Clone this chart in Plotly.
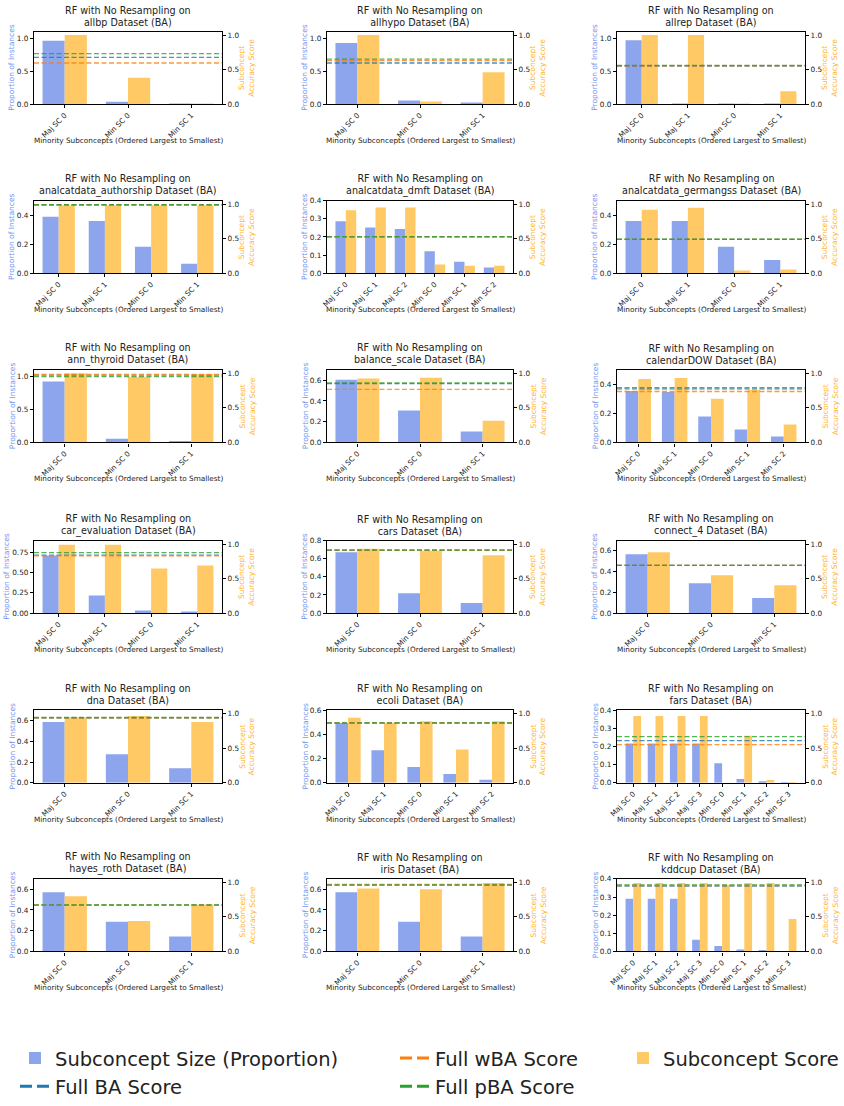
import plotly.graph_objects as go

W, H = 844, 1106
FONT = "DejaVu Sans"
TXT = "#222222"

datasets = ["allbp", "allhypo", "allrep", "analcatdata_authorship", "analcatdata_dmft",
            "analcatdata_germangss", "ann_thyroid", "balance_scale", "calendarDOW",
            "car_evaluation", "cars", "connect_4", "dna", "ecoli", "fars",
            "hayes_roth", "iris", "kddcup"]

cat3 = ["Maj SC 0", "Min SC 0", "Min SC 1"]
cat4 = ["Maj SC 0", "Maj SC 1", "Min SC 0", "Min SC 1"]
cat5 = ["Maj SC 0", "Maj SC 1", "Min SC 0", "Min SC 1", "Min SC 2"]
cat6 = ["Maj SC 0", "Maj SC 1", "Maj SC 2", "Min SC 0", "Min SC 1", "Min SC 2"]
cat8 = ["Maj SC 0", "Maj SC 1", "Maj SC 2", "Maj SC 3", "Min SC 0", "Min SC 1", "Min SC 2", "Min SC 3"]

categories = [cat3, cat3, cat4, cat4, cat6, cat4, cat3, cat3, cat5,
              cat4, cat3, cat3, cat3, cat5, cat8, cat3, cat3, cat8]

proportions = [
    [0.96, 0.035, 0.002],
    [0.925, 0.055, 0.02],
    [0.968, 0.004, 0.003, 0.002],
    [0.389, 0.361, 0.183, 0.066],
    [0.287, 0.253, 0.244, 0.122, 0.064, 0.031],
    [0.361, 0.361, 0.183, 0.091],
    [0.925, 0.055, 0.02],
    [0.604, 0.308, 0.106],
    [0.354, 0.347, 0.178, 0.089, 0.041],
    [0.715, 0.219, 0.033, 0.02],
    [0.67, 0.22, 0.11],
    [0.568, 0.287, 0.145],
    [0.587, 0.274, 0.14],
    [0.495, 0.268, 0.13, 0.073, 0.024],
    [0.216, 0.216, 0.216, 0.216, 0.108, 0.02, 0.005, 0.002],
    [0.571, 0.286, 0.143],
    [0.571, 0.286, 0.143],
    [0.29, 0.29, 0.29, 0.065, 0.03, 0.01, 0.005, 0.002],
]

scores = [
    [1.0, 0.38, 0.005],
    [1.0, 0.037, 0.46],
    [1.0, 1.0, 0.005, 0.185],
    [0.985, 0.985, 0.985, 0.985],
    [0.913, 0.952, 0.952, 0.125, 0.11, 0.11],
    [0.918, 0.947, 0.038, 0.053],
    [1.0, 0.952, 0.986],
    [0.924, 0.938, 0.314],
    [0.919, 0.933, 0.632, 0.761, 0.258],
    [0.99, 0.99, 0.644, 0.688],
    [0.933, 0.904, 0.837],
    [0.88, 0.548, 0.404],
    [0.95, 0.965, 0.88],
    [0.94, 0.87, 0.89, 0.48, 0.89],
    [0.965, 0.965, 0.965, 0.965, 0.0, 0.68, 0.04, 0.005],
    [0.8, 0.44, 0.68],
    [0.91, 0.9, 0.99],
    [0.99, 0.99, 0.99, 0.99, 0.965, 0.99, 0.99, 0.47],
]

ba_scores = [0.676, 0.595, 0.55, 0.99, 0.527, 0.49, 0.975, 0.85, 0.775,
             0.84, 0.91, 0.69, 0.94, 0.865, 0.61, 0.67, 0.96, 0.945]
wba_scores = [0.595, 0.63, 0.555, 0.99, 0.527, 0.49, 0.986, 0.767, 0.737,
              0.827, 0.91, 0.69, 0.94, 0.865, 0.553, 0.67, 0.97, 0.955]
pba_scores = [0.73, 0.652, 0.56, 0.992, 0.53, 0.492, 0.952, 0.862, 0.794,
              0.875, 0.913, 0.692, 0.945, 0.868, 0.667, 0.675, 0.965, 0.965]

left_tops = [1.1, 1.1, 1.1, 0.5, 0.4, 0.5, 1.1, 0.7, 0.5,
             0.9, 0.8, 0.7, 0.7, 0.6, 0.4, 0.7, 0.7, 0.4]
left_dticks = [0.5, 0.5, 0.5, 0.2, 0.1, 0.2, 0.5, 0.2, 0.2,
               0.25, 0.2, 0.2, 0.2, 0.2, 0.1, 0.2, 0.2, 0.1]

BLUE_BAR = "#8DA5ED"
ORANGE_BAR = "#FFC966"
BA_C = "#1f77b4"
WBA_C = "#ff7f0e"
PBA_C = "#2ca02c"
LBL_BLUE = "#7393EF"
LBL_ORANGE = "#FFB22E"

col_x = [(34, 222), (327, 513), (617, 805)]
row_top = [32, 203.5, 375, 548, 720, 891]
PH = 73.5

fig = go.Figure()
shapes, annotations, axes = [], [], {}

common_axis = dict(showline=True, linecolor="black", linewidth=1.2, showgrid=False,
                   zeroline=False, ticks="outside", ticklen=3, tickwidth=0.8,
                   tickcolor="black", tickfont=dict(size=7.3, color=TXT, family=FONT),
                   fixedrange=True, automargin=False)

for k, name in enumerate(datasets):
    r, c = divmod(k, 3)
    x0, x1 = col_x[c]
    yt = row_top[r]
    yb = yt + PH
    xid = "" if k == 0 else str(k + 1)
    ylid = "" if k == 0 else str(2 * k + 1)
    yrid = str(2 * k + 2)
    xref, ylref, yrref = "x" + xid, "y" + ylid, "y" + yrid
    cats = categories[k]
    n = len(cats)
    span = n - 1 + 0.7
    lo, hi = -0.35 - 0.05 * span, n - 1 + 0.35 + 0.05 * span
    two_dec = left_dticks[k] == 0.25

    fig.add_trace(go.Bar(x=cats, y=proportions[k], xaxis=xref, yaxis=ylref,
                         marker=dict(color=BLUE_BAR, line=dict(width=0)),
                         width=0.35, offset=-0.35, name="Subconcept Size (Proportion)",
                         showlegend=(k == 0), legend="legend", legendgroup="size"))
    fig.add_trace(go.Bar(x=cats, y=scores[k], xaxis=xref, yaxis=yrref,
                         marker=dict(color=ORANGE_BAR, line=dict(width=0)),
                         width=0.35, offset=0.0, name="Subconcept Score",
                         showlegend=(k == 0), legend="legend3", legendgroup="score"))

    axes["xaxis" + xid] = dict(common_axis, domain=[x0 / W, x1 / W], anchor=ylref,
                               type="category", categoryorder="array", categoryarray=cats,
                               range=[lo, hi], tickangle=-45, mirror=True)
    axes["yaxis" + ylid] = dict(common_axis, domain=[1 - yb / H, 1 - yt / H], anchor=xref,
                                range=[0, left_tops[k]], tick0=0, dtick=left_dticks[k],
                                tickformat=".2f" if two_dec else ".1f",
                                mirror=True, side="left")
    axes["yaxis" + yrid] = dict(common_axis, anchor=xref, overlaying=ylref, side="right",
                                range=[0, 1.05], tick0=0, dtick=0.5, tickformat=".1f")

    for val, colr in ((ba_scores[k], BA_C), (wba_scores[k], WBA_C), (pba_scores[k], PBA_C)):
        shapes.append(dict(type="line", xref=xref + " domain", yref=yrref, x0=0, x1=1,
                           y0=val, y1=val, opacity=0.8, layer="above",
                           line=dict(color=colr, width=1.3, dash="5px,2.5px")))

    cx = (x0 + x1) / 2 / W
    annotations.append(dict(text=f"RF with No Resampling on<br>{name} Dataset (BA)",
                            xref="paper", yref="paper", x=cx, y=1 - (yt - 2) / H,
                            xanchor="center", yanchor="bottom", showarrow=False,
                            font=dict(size=9.6, color=TXT, family=FONT)))
    annotations.append(dict(text="Minority Subconcepts (Ordered Largest to Smallest)",
                            xref="paper", yref="paper", x=cx, y=1 - (yb + 37) / H,
                            xanchor="center", yanchor="middle", showarrow=False,
                            font=dict(size=7.3, color=TXT, family=FONT)))
    annotations.append(dict(text="Proportion of Instances", textangle=-90,
                            xref="paper", yref="paper",
                            x=(x0 - (27 if two_dec else 22)) / W,
                            y=1 - (yt + PH / 2) / H, xanchor="center", yanchor="middle",
                            showarrow=False, font=dict(size=7.5, color=LBL_BLUE, family=FONT)))
    annotations.append(dict(text="Subconcept<br>Accuracy Score", textangle=-90,
                            xref="paper", yref="paper", x=(x1 + 25) / W,
                            y=1 - (yt + PH / 2) / H, xanchor="center", yanchor="middle",
                            showarrow=False, font=dict(size=7.5, color=LBL_ORANGE, family=FONT)))

# legend-only line entries
fig.add_trace(go.Scatter(x=[None], y=[None], mode="lines", name="Full BA Score",
                         line=dict(color=BA_C, width=3, dash="12px,5px"),
                         legend="legend", legendgroup="ba", xaxis="x", yaxis="y2"))
fig.add_trace(go.Scatter(x=[None], y=[None], mode="lines", name="Full wBA Score",
                         line=dict(color=WBA_C, width=3, dash="12px,5px"),
                         legend="legend2", legendgroup="wba", xaxis="x", yaxis="y2"))
fig.add_trace(go.Scatter(x=[None], y=[None], mode="lines", name="Full pBA Score",
                         line=dict(color=PBA_C, width=3, dash="12px,5px"),
                         legend="legend2", legendgroup="pba", xaxis="x", yaxis="y2"))

leg_common = dict(yanchor="top", xanchor="left", y=1 - 1053 / H, bgcolor="rgba(0,0,0,0)",
                  font=dict(size=19.5, color=TXT, family=FONT), tracegroupgap=4,
                  orientation="v", traceorder="normal")

fig.update_layout(
    width=W, height=H, margin=dict(l=0, r=0, t=0, b=0),
    paper_bgcolor="white", plot_bgcolor="white", barmode="overlay",
    font=dict(family=FONT, color=TXT), showlegend=True,
    shapes=shapes, annotations=annotations,
    legend=dict(leg_common, x=15 / W),
    legend2=dict(leg_common, x=395 / W),
    legend3=dict(leg_common, x=623 / W),
    **axes,
)

fig.write_html("out.html")
